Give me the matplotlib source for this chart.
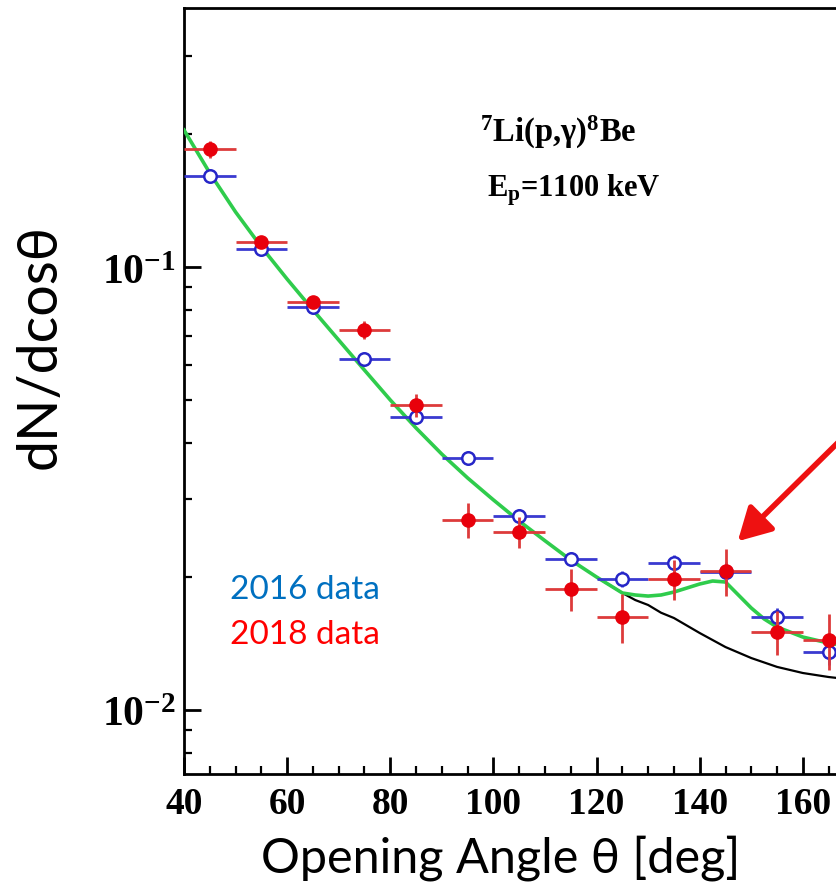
import matplotlib
matplotlib.use("Agg")
import matplotlib.pyplot as plt
import numpy as np
from matplotlib.ticker import FixedLocator, MultipleLocator, LogLocator, FuncFormatter, NullFormatter

plt.rcParams['mathtext.fontset'] = 'custom'
plt.rcParams['mathtext.rm'] = 'Liberation Serif:bold'
plt.rcParams['mathtext.bf'] = 'Liberation Serif:bold'
plt.rcParams['mathtext.it'] = 'Liberation Serif:bold:italic'

# ---- data ----
angles = [45, 55, 65, 75, 85, 95, 105, 115, 125, 135, 145, 155, 165]
data_2018 = [0.1846, 0.1139, 0.0834, 0.0721, 0.0488, 0.0269, 0.0252, 0.01875,
             0.01622, 0.01977, 0.0206, 0.0150, 0.0144]
rel_err_2018 = [0.043, 0.026, 0.032, 0.048, 0.059, 0.092, 0.081, 0.11,
                0.127, 0.104, 0.121, 0.115, 0.145]
data_2016 = [0.1604, 0.1098, 0.0812, 0.0620, 0.0459, 0.0371, 0.0274, 0.0219,
             0.01977, 0.0215, 0.0205, 0.01622, 0.01352]
rel_err_2016 = [0.02, 0.02, 0.02, 0.02, 0.025, 0.025, 0.035, 0.035,
                0.04, 0.04, 0.055, 0.045, 0.065]
angle_halfwidth = 5

fit_angles = [40, 45, 50, 55, 60, 65, 70, 75, 80, 85, 90, 95, 100, 105, 110, 115,
              120, 125, 127.5, 130, 132.5, 135, 137.5, 140, 142.5, 145, 147.5,
              150, 152.5, 155, 157.5, 160, 165, 170]
fit_signal = [0.2038, 0.1630, 0.1331, 0.1110, 0.0939, 0.0800, 0.0684, 0.0585,
              0.0501, 0.0433, 0.0378, 0.0334, 0.0298, 0.0267, 0.0241, 0.0218,
              0.01996, 0.01837, 0.01818, 0.01808, 0.01818, 0.01846, 0.01885,
              0.01925, 0.01955, 0.01945, 0.01818, 0.01699, 0.01605, 0.01539,
              0.01500, 0.01461, 0.01416, 0.01387]
bg_angles = [120, 125, 127.5, 130, 132.5, 135, 140, 145, 150, 155, 160, 165, 170]
fit_background = [0.01996, 0.01837, 0.01771, 0.01726, 0.01658, 0.01613, 0.01492,
                  0.01387, 0.01310, 0.01251, 0.01212, 0.01187, 0.01169]
x_tick_labels = [40, 60, 80, 100, 120, 140, 160]

# ---- figure ----
W, H = 836, 886
fig = plt.figure(figsize=(W / 100, H / 100), dpi=100)
ax = fig.add_axes([184 / W, 1 - 774 / H, (906 - 184) / W, (774 - 8) / H])
ax.set_yscale('log')
ax.set_xlim(40, 180)
ax.set_ylim(0.00717, 0.3843)

ax.plot(bg_angles, fit_background, color='black', lw=1.6, zorder=2)
ax.plot(fit_angles, fit_signal, color='#2fcc4c', lw=2.6, zorder=3)

a = np.array(angles)
r = np.array(data_2018)
b = np.array(data_2016)
ax.errorbar(a, b, xerr=angle_halfwidth, yerr=b * np.array(rel_err_2016),
            fmt='o', color='#2626c8', ecolor='#3a3ad0', elinewidth=2.0,
            markersize=9.0, mfc='white', mew=1.8, capsize=0, zorder=4)
ax.errorbar(a, r, xerr=angle_halfwidth, yerr=r * np.array(rel_err_2018),
            fmt='o', color='#e8000b', ecolor='#dd3b3b', elinewidth=2.0,
            markersize=9.5, capsize=0, zorder=5)

# axes styling
for s in ['left', 'bottom', 'top']:
    ax.spines[s].set_linewidth(2.0)
ax.spines['right'].set_visible(False)
ax.xaxis.set_major_locator(FixedLocator(x_tick_labels))
ax.xaxis.set_minor_locator(MultipleLocator(5))
ax.yaxis.set_major_locator(LogLocator(base=10, numticks=10))
ax.yaxis.set_minor_locator(LogLocator(base=10, subs=np.arange(2, 10), numticks=20))
ax.yaxis.set_minor_formatter(NullFormatter())
ax.yaxis.set_major_formatter(FuncFormatter(
    lambda v, p: r'$10^{%d}$' % int(round(np.log10(v)))))
ax.tick_params(which='major', direction='in', length=12, width=2, top=False, right=False)
ax.tick_params(which='minor', direction='in', length=6, width=1.6, top=False, right=False)
ax.tick_params(axis='x', which='major', pad=9)
ax.tick_params(axis='y', which='major', pad=6)
for lab in ax.get_xticklabels():
    lab.set_fontfamily('Liberation Serif')
    lab.set_fontweight('bold')
    lab.set_fontsize(27)
for lab in ax.get_yticklabels():
    lab.set_fontsize(30)

# annotation text in plot
ax.text((480 - 184) / (906 - 184), 1 - (142 - 8) / (774 - 8),
        r'${}^{7}$Li(p,γ)${}^{8}$Be', transform=ax.transAxes,
        fontfamily='Liberation Serif', fontweight='bold', fontsize=23.5,
        va='baseline', ha='left')
ax.text((487 - 184) / (906 - 184), 1 - (196 - 8) / (774 - 8),
        r'E$_{\rm p}$=1100 keV', transform=ax.transAxes,
        fontfamily='Liberation Serif', fontweight='bold', fontsize=22,
        va='baseline', ha='left')

# arrow
ax.annotate('', xy=(147.0, 0.0238), xytext=(175.5, 0.0505),
            arrowprops=dict(arrowstyle='-|>,head_length=0.9,head_width=0.5',
                            color='#ee1111', lw=4, mutation_scale=22),
            annotation_clip=False, zorder=6)

# outer labels
sans = ['Lato', 'DejaVu Sans']
fig.text(501 / W, 1 - 858 / H, 'Opening Angle θ [deg]', ha='center', va='center',
         fontsize=35, family=sans)
fig.text(40 / W, 1 - 347 / H, 'dN/dcosθ', ha='center', va='center',
         rotation=90, fontsize=40, family=sans)
fig.text(230 / W, 1 - 590 / H, '2016 data', ha='left', va='center',
         fontsize=24, color='#0070c0', family=sans)
fig.text(230 / W, 1 - 635 / H, '2018 data', ha='left', va='center',
         fontsize=24, color='#ff0000', family=sans)

fig.savefig('out.png', dpi=100)
